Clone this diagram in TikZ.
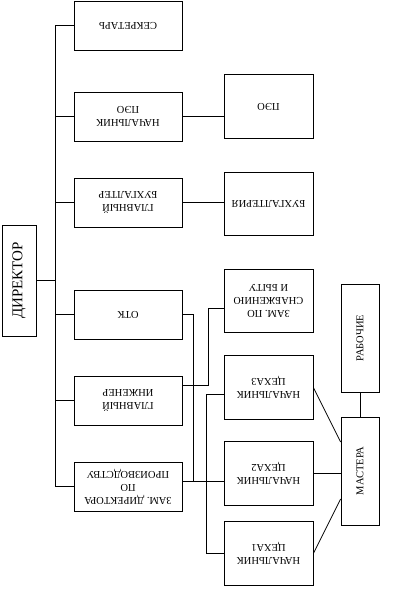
\documentclass[tikz,border=0pt]{standalone}
\usepackage{fontspec}
\setmainfont{Liberation Serif}
\begin{document}
\begin{tikzpicture}[x=1pt,y=-1pt,line width=0.8pt,font=\fontsize{10.5}{13}\selectfont,
  box/.style={draw,inner sep=0pt,minimum width=108pt,minimum height=49pt},
  mid/.style={draw,inner sep=0pt,minimum width=89pt,minimum height=63.5pt},
  tall/.style={draw,inner sep=0pt,minimum width=38pt,minimum height=108pt},
  upside/.style={rotate=180,align=center},side/.style={rotate=90,align=center}]
\useasboundingbox (0,0) rectangle (401,594);
\node[draw,inner sep=0pt,minimum width=34pt,minimum height=111pt,label={[side,font=\fontsize{15}{18}\selectfont]center:ДИРЕКТОР}] (dir) at (19,280.5) {};
% left column
\node[box,label={[upside]center:СЕКРЕТАРЬ}] (sec) at (128,25.5) {};
\node[box,label={[upside]center:{НАЧАЛЬНИК\\ПЭО}}] (npeo) at (128,116.5) {};
\node[box,label={[upside]center:{ГЛАВНЫЙ\\БУХГАЛТЕР}}] (gbuh) at (128,202.5) {};
\node[box,label={[upside]center:ОТК}] (otk) at (128,314.5) {};
\node[box,label={[upside]center:{ГЛАВНЫЙ\\ИНЖЕНЕР}}] (ging) at (128,400.5) {};
\node[box,label={[upside]center:{ЗАМ. ДИРЕКТОРА\\ПО\\ПРОИЗВОДСТВУ}}] (zdir) at (128,486.5) {};
% middle column
\node[mid,label={[upside]center:ПЭО}] (peo) at (268.5,106.5) {};
\node[mid,label={[upside]center:БУХГАЛТЕРИЯ}] (buh) at (268.5,204) {};
\node[mid,label={[upside]center:{ЗАМ. ПО\\СНАБЖЕНИЮ\\И БЫТУ}}] (zsnab) at (268.5,301) {};
\node[mid,label={[upside]center:{НАЧАЛЬНИК\\ЦЕХА3}}] (ceh3) at (268.5,387.5) {};
\node[mid,label={[upside]center:{НАЧАЛЬНИК\\ЦЕХА2}}] (ceh2) at (268.5,473.5) {};
\node[mid,label={[upside]center:{НАЧАЛЬНИК\\ЦЕХА1}}] (ceh1) at (268.5,553.5) {};
% right column
\node[tall,label={[side]center:РАБОЧИЕ}] (rab) at (360,338) {};
\node[tall,label={[side]center:МАСТЕРА}] (mast) at (360,471) {};
\coordinate (j1) at (193,481);
\draw (dir.east) -- ([xshift=-18pt]dir.east -| sec.west);
\draw (sec.west) -- ++(-18,0) |- (zdir.west);
\foreach \n in {npeo,gbuh,otk,ging} {\draw (\n.west) -- ++(-18,0);}
\draw (npeo.east) -- (npeo.east -| peo.west);
\draw (gbuh.east) -- (gbuh.east -| buh.west);
\draw ([yshift=5pt]zdir.east) -- ([yshift=5pt]zdir.east -| ceh2.west);
\draw (otk.east) -| (j1);
\draw ([yshift=15pt]ging.east) -- ++(26,0) |- ([yshift=-7pt]zsnab.west);
\draw ([yshift=-6.5pt]ceh3.west) -- ++(-17,0) |- (ceh1.west);
\draw (ceh3.east) -- ([yshift=29pt]mast.west);
\draw (ceh2.east) -- (ceh2.east -| mast.west);
\draw (ceh1.east) -- ([yshift=-28pt]mast.west);
\draw (rab) -- (mast);
\end{tikzpicture}
\end{document}
